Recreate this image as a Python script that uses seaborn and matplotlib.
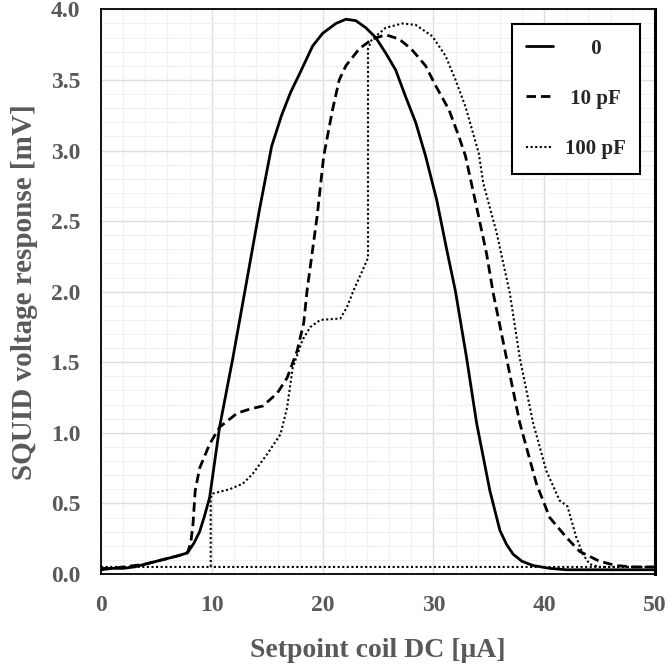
import matplotlib
matplotlib.use("Agg")
import matplotlib.pyplot as plt
import seaborn as sns
from matplotlib.ticker import MultipleLocator

# ---- data (x in uA, y in mV)
zero_x = [0, 1, 2, 3, 4, 5, 6, 7, 7.8, 8.4, 8.9, 9.3, 9.8, 10.7, 11.9, 13.0, 14.3, 15.4, 16.3, 17.1,
          17.9, 18.5, 19.1, 20.0, 21.2, 22.1, 23.0, 23.9, 24.8, 25.7, 26.6, 27.5, 28.4, 29.3, 30.3, 31.2,
          32.0, 33.0, 33.9, 35.1, 36.0, 36.6, 37.2, 38.0, 39.0, 40.5, 42.0, 45.0, 50.0]
zero_y = [0.03, 0.04, 0.04, 0.05, 0.07, 0.09, 0.11, 0.13, 0.15, 0.22, 0.30, 0.40, 0.54, 1.04, 1.53, 2.01, 2.58, 3.03, 3.25, 3.41,
          3.54, 3.64, 3.74, 3.83, 3.90, 3.93, 3.92, 3.87, 3.80, 3.69, 3.57, 3.38, 3.20, 2.96, 2.65, 2.30,
          2.00, 1.53, 1.07, 0.59, 0.31, 0.21, 0.14, 0.09, 0.06, 0.04, 0.03, 0.03, 0.03]

ten_x = [0, 1, 2, 3, 4, 5, 6, 7, 7.8, 8.1, 8.3, 8.5, 8.9, 9.8, 10.7, 12.3, 13.5, 14.6, 15.9, 16.8,
         17.7, 18.3, 18.6, 19.5, 20.1, 20.9, 21.5, 22.1, 23.3, 24.5, 25.7, 26.9, 28.0, 29.3, 30.2, 31.4,
         32.3, 32.9, 33.9, 34.8, 35.4, 36.6, 37.8, 39.3, 40.5, 42.0, 43.2, 45.0, 46.5, 48.0, 50.0]
ten_y = [0.04, 0.04, 0.05, 0.06, 0.07, 0.09, 0.11, 0.13, 0.15, 0.22, 0.35, 0.59, 0.75, 0.92, 1.04, 1.14, 1.17, 1.19, 1.28, 1.39,
         1.58, 1.78, 2.01, 2.53, 2.96, 3.29, 3.50, 3.60, 3.72, 3.79, 3.82, 3.79, 3.72, 3.60, 3.46, 3.29,
         3.10, 2.96, 2.60, 2.27, 1.99, 1.53, 1.07, 0.64, 0.40, 0.26, 0.16, 0.09, 0.06, 0.05, 0.05]

# 100 pF trace runs out to 50 and comes back along the baseline
hund_x = [0, 9.9, 9.9, 10.1, 11.6, 12.8, 13.7, 15.0, 16.2, 16.8, 17.3, 18.2, 18.9, 19.8, 21.6, 22.2, 22.8, 23.6, 24.1, 24.1,
          24.4, 24.8, 25.7, 27.2, 28.4, 29.9, 31.1, 32.0, 32.9, 34.1, 34.5, 35.7, 36.9, 37.8, 39.0, 40.2, 41.4, 42.1,
          42.9, 43.5, 44.1, 45.0, 50.0, 9.9]
hund_y = [0.05, 0.05, 0.54, 0.57, 0.60, 0.64, 0.71, 0.85, 0.99, 1.18, 1.46, 1.66, 1.75, 1.80, 1.81, 1.89, 2.01, 2.15, 2.24, 3.72,
          3.78, 3.81, 3.87, 3.90, 3.89, 3.81, 3.67, 3.50, 3.31, 2.98, 2.77, 2.42, 1.99, 1.53, 1.07, 0.73, 0.52, 0.48,
          0.26, 0.14, 0.07, 0.05, 0.05, 0.05]

labels = ["0", "10 pF", "100 pF"]
x_ticks = [0, 10, 20, 30, 40, 50]

sns.set_style("white")
plt.rcParams['font.family'] = ['Liberation Serif', 'DejaVu Serif']
plt.rcParams['font.weight'] = 'bold'
grey = "#595959"

fig, ax = plt.subplots(figsize=(6.69, 6.69), dpi=100)
fig.subplots_adjust(left=0.151, right=0.979, bottom=0.142, top=0.986)

sns.lineplot(x=zero_x, y=zero_y, sort=False, estimator=None, errorbar=None, color="black", lw=2.0,
             ax=ax, label="     " + labels[0])
sns.lineplot(x=ten_x, y=ten_y, sort=False, estimator=None, errorbar=None, color="black", lw=2.0,
             ax=ax, label=" " + labels[1])
ax.lines[-1].set_dashes((3.4, 1.8))
sns.lineplot(x=hund_x, y=hund_y, sort=False, estimator=None, errorbar=None, color="black", lw=1.5,
             ax=ax, label=labels[2])
ax.lines[-1].set_dashes((1, 1.2))

ax.set_xlim(0, 50)
ax.set_ylim(0, 4.0)
ax.set_xticks(x_ticks)
ax.set_yticks([i * 0.5 for i in range(9)])
ax.set_yticklabels([f"{i * 0.5:.1f}" for i in range(9)])
ax.xaxis.set_minor_locator(MultipleLocator(2))
ax.yaxis.set_minor_locator(MultipleLocator(0.1))
ax.grid(True, which="major", color="#dedede", lw=1.0)
ax.grid(True, which="minor", color="#f0f0f0", lw=0.8)
ax.set_axisbelow(True)

ax.tick_params(which="both", length=0)
ax.tick_params(axis="x", pad=15, labelsize=17, labelcolor=grey)
ax.tick_params(axis="y", pad=15, labelsize=17, labelcolor=grey)
for t in ax.get_xticklabels() + ax.get_yticklabels():
    t.set_fontweight("bold")

ax.set_xlabel("Setpoint coil DC [μA]", fontsize=20, fontweight="bold", color=grey, labelpad=16)
ax.set_ylabel("SQUID voltage response [mV]", fontsize=21, fontweight="bold", color=grey, labelpad=9)

for side in ["left", "bottom", "top"]:
    ax.spines[side].set_color("black")
    ax.spines[side].set_linewidth(1.3)
ax.spines["right"].set_color("black")
ax.spines["right"].set_linewidth(2.2)

leg = ax.legend(loc="upper right", fontsize=15, frameon=True, fancybox=False, framealpha=1,
                edgecolor="black", handlelength=1.3, labelspacing=1.45, borderpad=0.7,
                handletextpad=0.55, borderaxespad=0.7)
leg.get_frame().set_linewidth(1.5)
for t in leg.get_texts():
    t.set_fontweight("bold")

plt.savefig("out.png", dpi=100)
